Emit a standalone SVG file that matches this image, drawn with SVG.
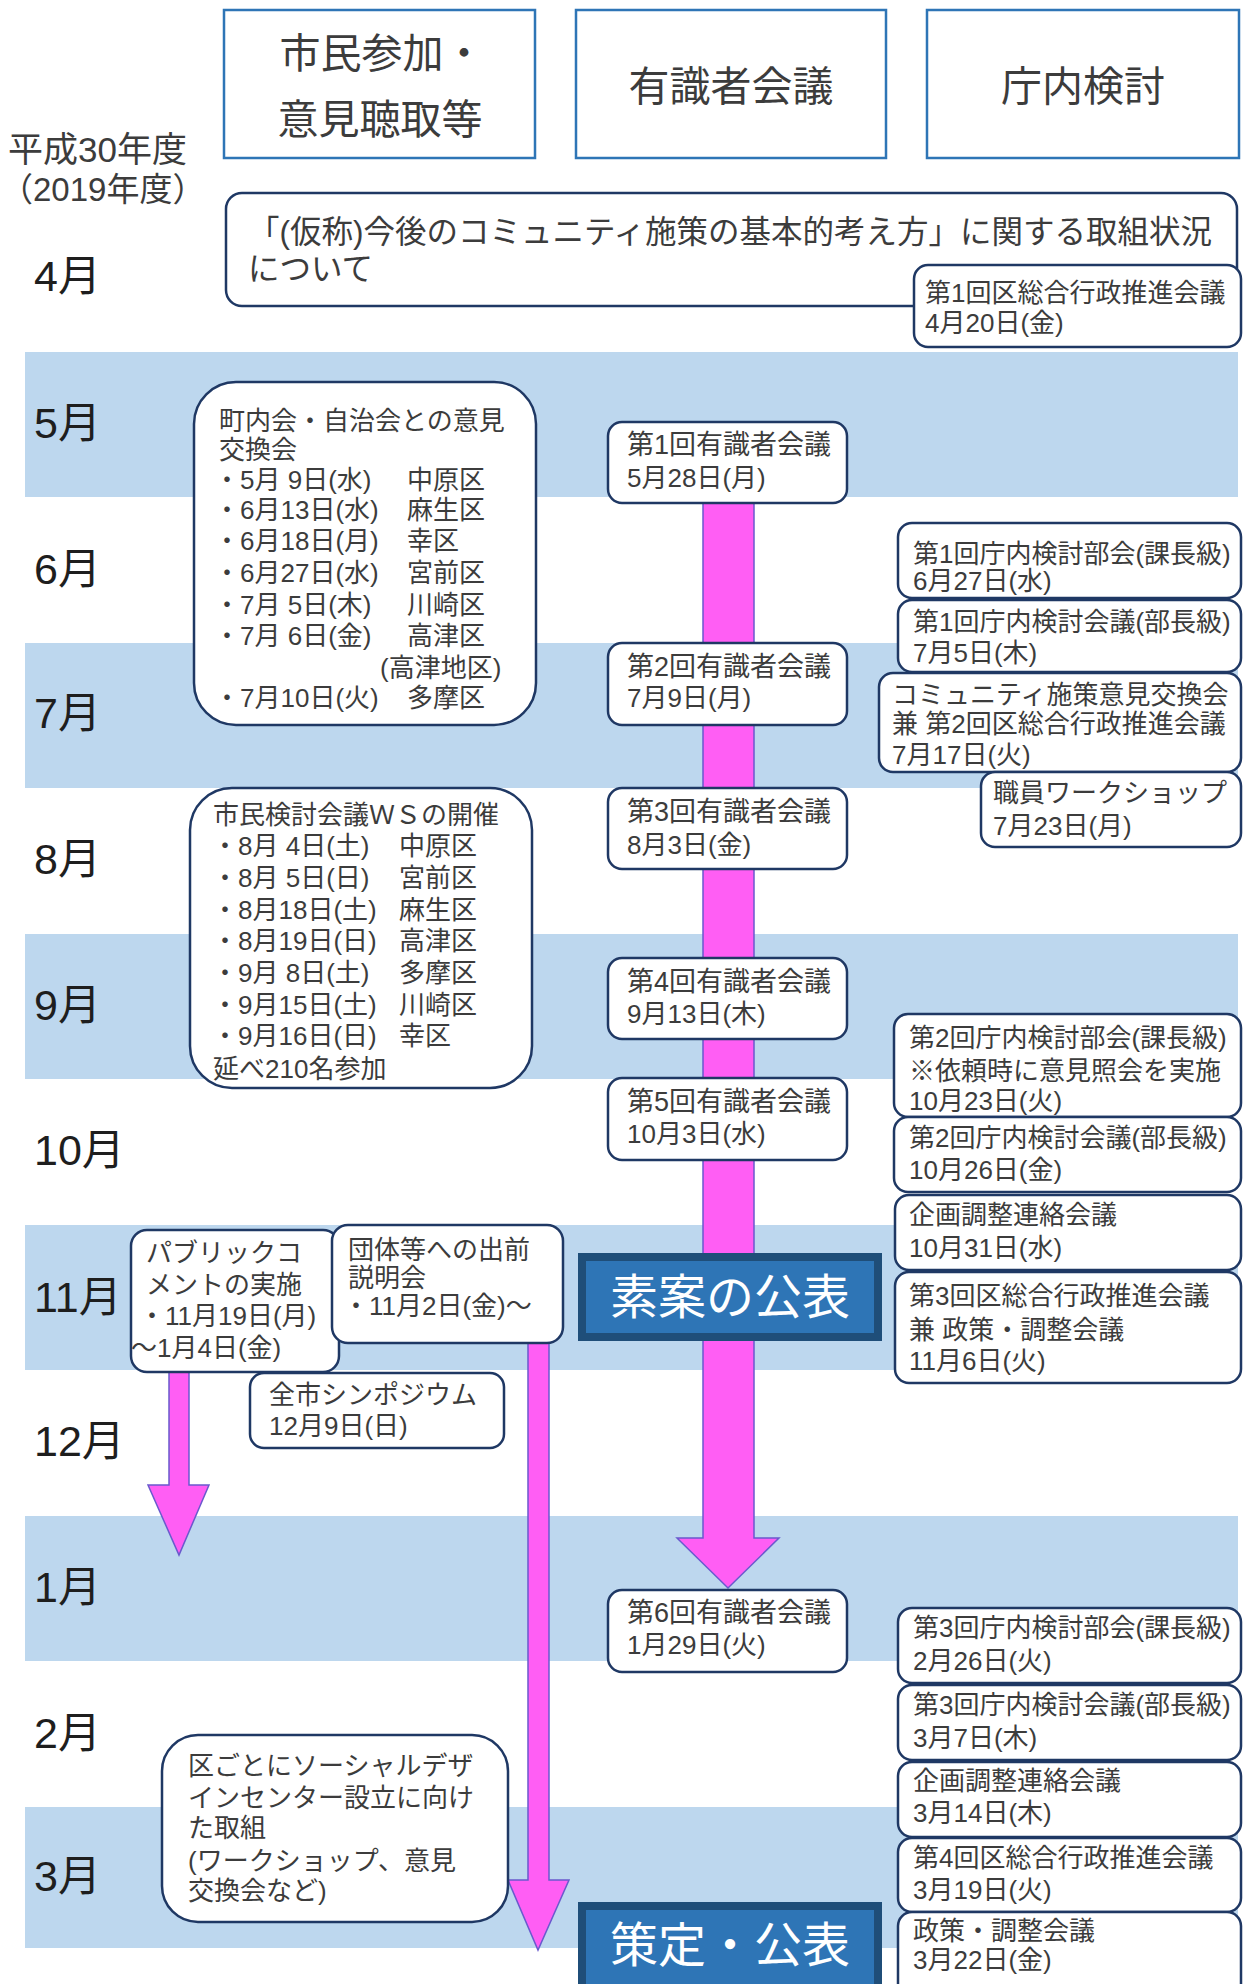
<svg xmlns="http://www.w3.org/2000/svg" width="1245" height="1984" viewBox="0 0 1245 1984">
<style>
.band{fill:#BDD7EE}
.hdr{fill:#fff;stroke:#2E75B6;stroke-width:2.5}
.box{fill:#fff;stroke:#1F3864;stroke-width:2.5}
.t{font-family:"Liberation Sans","Noto Sans CJK JP","Noto Sans CJK SC",sans-serif;fill:#3c3c3c;dominant-baseline:central;transform:translateY(calc(-4px + 0.09em))}
.s26{font-size:26px}
.s27{font-size:27px}
.hd{font-size:41px;fill:#3c3c3c}
.mo{font-size:43px;fill:#1e1e1e}
.pink{fill:#FF5EF4;stroke:#6A5ACD;stroke-width:1.5}
.pub{fill:#2E75B6;stroke:#1F4E79;stroke-width:8}
.pubt{font-size:48px;fill:#fff}
</style>
<rect width="1245" height="1984" fill="#fff"/>
<g id="bands">
<rect class="band" x="25" y="352" width="1213" height="145"/>
<rect class="band" x="25" y="643" width="1213" height="145"/>
<rect class="band" x="25" y="934" width="1213" height="145"/>
<rect class="band" x="25" y="1225" width="1213" height="145"/>
<rect class="band" x="25" y="1516" width="1213" height="145"/>
<rect class="band" x="25" y="1807" width="1213" height="141"/>
</g>
<g id="headers">
<g id="hdr-shimin"><rect class="hdr" x="224" y="10" width="311" height="148"/>
<text class="t hd" text-anchor="middle"><tspan x="382" y="54">市民参加・</tspan><tspan x="380" y="120">意見聴取等</tspan></text></g>
<g id="hdr-yushiki"><rect class="hdr" x="576" y="10" width="310" height="148"/>
<text class="t hd" x="731" y="87" text-anchor="middle">有識者会議</text></g>
<g id="hdr-chonai"><rect class="hdr" x="927" y="10" width="312" height="148"/>
<text class="t hd" x="1083" y="87" text-anchor="middle">庁内検討</text></g>
</g>
<g id="year">
<text class="t" x="8" y="150" font-size="35" fill="#3c3c3c">平成30年度</text>
<text class="t" x="0" y="191" font-size="33" fill="#3c3c3c">（2019年度）</text>
</g>
<g id="months">
<text class="t mo" x="34" y="276">4月</text>
<text class="t mo" x="34" y="423">5月</text>
<text class="t mo" x="34" y="569">6月</text>
<text class="t mo" x="34" y="713">7月</text>
<text class="t mo" x="34" y="859">8月</text>
<text class="t mo" x="34" y="1005">9月</text>
<text class="t mo" x="34" y="1150">10月</text>
<text class="t mo" x="34" y="1297">11月</text>
<text class="t mo" x="34" y="1441">12月</text>
<text class="t mo" x="34" y="1587">1月</text>
<text class="t mo" x="34" y="1733">2月</text>
<text class="t mo" x="34" y="1876">3月</text>
</g>
<g id="connectors">
<rect class="pink" x="703" y="503" width="51" height="752"/>
<path class="pink" d="M703,1339 L754,1339 L754,1538 L779,1538 L728,1588 L677,1538 L703,1538 Z"/>
<path class="pink" d="M169,1372 L189,1372 L189,1485 L209,1485 L179,1555 L148,1485 L169,1485 Z"/>
<path class="pink" d="M528,1343 L549,1343 L549,1880 L569,1880 L538,1950 L508,1880 L528,1880 Z"/>
</g>
<g id="n-april"><rect class="box" x="226" y="193" width="1011" height="113" rx="16"/>
<text class="t" font-size="31.5"><tspan x="248" y="233">「(仮称)今後のコミュニティ施策の基本的考え方」に関する取組状況</tspan><tspan x="248" y="270">について</tspan></text></g>
<g id="n-r1"><rect class="box" x="914" y="265" width="327" height="82" rx="14"/>
<text class="t s26"><tspan x="925" y="295">第1回区総合行政推進会議</tspan><tspan x="925" y="325">4月20日(金)</tspan></text></g>
<g id="n-chonaikai"><rect class="box" x="194" y="382" width="342" height="343" rx="42"/>
<text class="t s26"><tspan x="219" y="423">町内会・自治会との意見</tspan><tspan x="219" y="452">交換会</tspan><tspan x="214" y="482">・5月 9日(水)</tspan><tspan x="407" y="482">中原区</tspan><tspan x="214" y="512">・6月13日(水)</tspan><tspan x="407" y="512">麻生区</tspan><tspan x="214" y="543">・6月18日(月)</tspan><tspan x="407" y="543">幸区</tspan><tspan x="214" y="575">・6月27日(水)</tspan><tspan x="407" y="575">宮前区</tspan><tspan x="214" y="607">・7月 5日(木)</tspan><tspan x="407" y="607">川崎区</tspan><tspan x="214" y="638">・7月 6日(金)</tspan><tspan x="407" y="638">高津区</tspan><tspan x="380" y="670">(高津地区)</tspan><tspan x="214" y="700">・7月10日(火)</tspan><tspan x="407" y="700">多摩区</tspan></text></g>
<g id="n-c1"><rect class="box" x="608" y="422" width="239" height="81" rx="14"/>
<text class="t"><tspan class="s27" x="627" y="448">第1回有識者会議</tspan><tspan class="s26" x="627" y="481">5月28日(月)</tspan></text></g>
<g id="n-c2"><rect class="box" x="608" y="643" width="239" height="82" rx="14"/>
<text class="t"><tspan class="s27" x="627" y="670">第2回有識者会議</tspan><tspan class="s26" x="627" y="701">7月9日(月)</tspan></text></g>
<g id="n-c3"><rect class="box" x="608" y="788" width="239" height="81" rx="14"/>
<text class="t"><tspan class="s27" x="627" y="815">第3回有識者会議</tspan><tspan class="s26" x="627" y="848">8月3日(金)</tspan></text></g>
<g id="n-c4"><rect class="box" x="608" y="958" width="239" height="81" rx="14"/>
<text class="t"><tspan class="s27" x="627" y="985">第4回有識者会議</tspan><tspan class="s26" x="627" y="1017">9月13日(木)</tspan></text></g>
<g id="n-c5"><rect class="box" x="608" y="1078" width="239" height="82" rx="14"/>
<text class="t"><tspan class="s27" x="627" y="1105">第5回有識者会議</tspan><tspan class="s26" x="627" y="1137">10月3日(水)</tspan></text></g>
<g id="n-c6"><rect class="box" x="608" y="1590" width="239" height="82" rx="14"/>
<text class="t"><tspan class="s27" x="627" y="1616">第6回有識者会議</tspan><tspan class="s26" x="627" y="1648">1月29日(火)</tspan></text></g>
<g id="n-r2"><rect class="box" x="898" y="523" width="343" height="75" rx="14"/>
<text class="t s26"><tspan x="913" y="556">第1回庁内検討部会(課長級)</tspan><tspan x="913" y="583">6月27日(水)</tspan></text></g>
<g id="n-r3"><rect class="box" x="898" y="600" width="343" height="72" rx="14"/>
<text class="t s26"><tspan x="913" y="624">第1回庁内検討会議(部長級)</tspan><tspan x="913" y="655">7月5日(木)</tspan></text></g>
<g id="n-r4"><rect class="box" x="879" y="673" width="362" height="99" rx="14"/>
<text class="t s26"><tspan x="892" y="697">コミュニティ施策意見交換会</tspan><tspan x="892" y="726">兼 第2回区総合行政推進会議</tspan><tspan x="892" y="757">7月17日(火)</tspan></text></g>
<g id="n-r5"><rect class="box" x="981" y="772" width="260" height="75" rx="14"/>
<text class="t s26"><tspan x="993" y="795">職員ワークショップ</tspan><tspan x="993" y="828">7月23日(月)</tspan></text></g>
<g id="n-shiminws"><rect class="box" x="190" y="788" width="342" height="300" rx="42"/>
<text class="t s26"><tspan x="213" y="817">市民検討会議ＷＳの開催</tspan><tspan x="212" y="848">・8月 4日(土)</tspan><tspan x="399" y="848">中原区</tspan><tspan x="212" y="880">・8月 5日(日)</tspan><tspan x="399" y="880">宮前区</tspan><tspan x="212" y="912">・8月18日(土)</tspan><tspan x="399" y="912">麻生区</tspan><tspan x="212" y="943">・8月19日(日)</tspan><tspan x="399" y="943">高津区</tspan><tspan x="212" y="975">・9月 8日(土)</tspan><tspan x="399" y="975">多摩区</tspan><tspan x="212" y="1007">・9月15日(土)</tspan><tspan x="399" y="1007">川崎区</tspan><tspan x="212" y="1038">・9月16日(日)</tspan><tspan x="399" y="1038">幸区</tspan><tspan x="213" y="1071">延べ210名参加</tspan></text></g>
<g id="n-r6"><rect class="box" x="894" y="1014" width="347" height="103" rx="14"/>
<text class="t s26"><tspan x="909" y="1040">第2回庁内検討部会(課長級)</tspan><tspan x="909" y="1073">※依頼時に意見照会を実施</tspan><tspan x="909" y="1103">10月23日(火)</tspan></text></g>
<g id="n-r7"><rect class="box" x="894" y="1117" width="347" height="75" rx="14"/>
<text class="t s26"><tspan x="909" y="1140">第2回庁内検討会議(部長級)</tspan><tspan x="909" y="1172">10月26日(金)</tspan></text></g>
<g id="n-r8"><rect class="box" x="895" y="1195" width="346" height="75" rx="14"/>
<text class="t s26"><tspan x="909" y="1217">企画調整連絡会議</tspan><tspan x="909" y="1250">10月31日(水)</tspan></text></g>
<g id="n-r9"><rect class="box" x="895" y="1272" width="346" height="111" rx="14"/>
<text class="t s26"><tspan x="909" y="1298">第3回区総合行政推進会議</tspan><tspan x="909" y="1332">兼 政策・調整会議</tspan><tspan x="909" y="1363">11月6日(火)</tspan></text></g>
<g id="n-soan"><rect class="pub" x="582" y="1257" width="296" height="80"/>
<text class="t pubt" x="730" y="1297" text-anchor="middle">素案の公表</text></g>
<g id="n-pubcome"><rect class="box" x="131" y="1230" width="208" height="142" rx="16"/>
<text class="t s26"><tspan x="146" y="1255">パブリックコ</tspan><tspan x="146" y="1287">メントの実施</tspan><tspan x="139" y="1318">・11月19日(月)</tspan><tspan x="131" y="1350">～1月4日(金)</tspan></text></g>
<g id="n-dantai"><rect class="box" x="332" y="1225" width="231" height="118" rx="16"/>
<text class="t s26"><tspan x="348" y="1252">団体等への出前</tspan><tspan x="348" y="1280">説明会</tspan><tspan x="343" y="1308">・11月2日(金)～</tspan></text></g>
<g id="n-symposium"><rect class="box" x="250" y="1373" width="254" height="75" rx="14"/>
<text class="t s26"><tspan x="269" y="1397">全市シンポジウム</tspan><tspan x="269" y="1428">12月9日(日)</tspan></text></g>
<g id="n-r10"><rect class="box" x="898" y="1608" width="343" height="75" rx="14"/>
<text class="t s26"><tspan x="913" y="1630">第3回庁内検討部会(課長級)</tspan><tspan x="913" y="1663">2月26日(火)</tspan></text></g>
<g id="n-r11"><rect class="box" x="898" y="1685" width="343" height="75" rx="14"/>
<text class="t s26"><tspan x="913" y="1707">第3回庁内検討会議(部長級)</tspan><tspan x="913" y="1740">3月7日(木)</tspan></text></g>
<g id="n-r12"><rect class="box" x="898" y="1762" width="343" height="75" rx="14"/>
<text class="t s26"><tspan x="913" y="1783">企画調整連絡会議</tspan><tspan x="913" y="1815">3月14日(木)</tspan></text></g>
<g id="n-r13"><rect class="box" x="898" y="1838" width="343" height="74" rx="14"/>
<text class="t s26"><tspan x="913" y="1860">第4回区総合行政推進会議</tspan><tspan x="913" y="1892">3月19日(火)</tspan></text></g>
<g id="n-r14"><rect class="box" x="898" y="1912" width="343" height="90" rx="14"/>
<text class="t s26"><tspan x="913" y="1933">政策・調整会議</tspan><tspan x="913" y="1962">3月22日(金)</tspan></text></g>
<g id="n-kugoto"><rect class="box" x="162" y="1735" width="346" height="187" rx="36"/>
<text class="t s26"><tspan x="188" y="1768">区ごとにソーシャルデザ</tspan><tspan x="188" y="1800">インセンター設立に向け</tspan><tspan x="188" y="1830">た取組</tspan><tspan x="188" y="1863">(ワークショップ、意見</tspan><tspan x="188" y="1893">交換会など)</tspan></text></g>
<g id="n-sakutei"><rect class="pub" x="582" y="1906" width="296" height="90"/>
<text class="t pubt" x="730" y="1945" text-anchor="middle">策定・公表</text></g>
</svg>
